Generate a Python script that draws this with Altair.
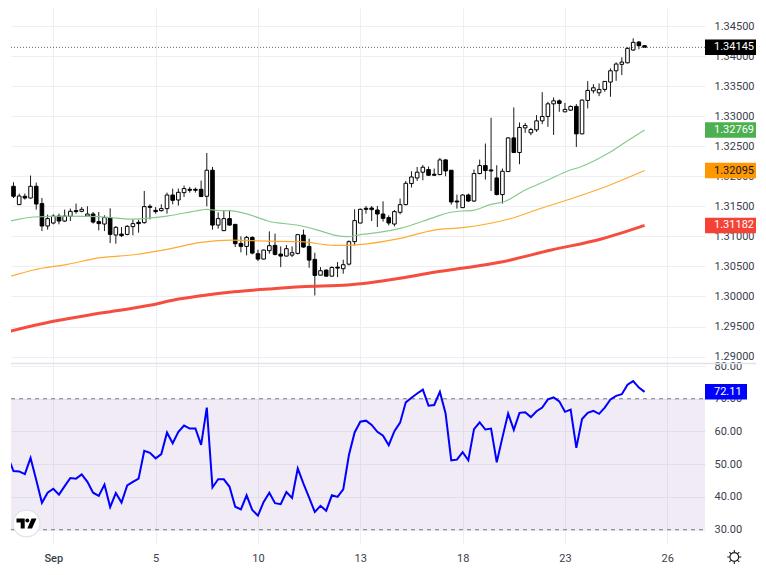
import altair as alt
import pandas as pd

opens = [1.31833,1.31528,1.31667,1.31638,1.31833,1.31545,1.31172,1.31222,1.31338,1.31255,1.31333,1.31428,1.31417,1.31338,1.31372,1.31245,1.31205,1.31312,1.31022,1.31038,1.31033,1.31162,1.31233,1.31228,1.31500,1.31433,1.31428,1.31462,1.31688,1.31605,1.31728,1.31783,1.31783,1.31783,1.31667,1.32100,1.31188,1.31095,1.31295,1.31200,1.30883,1.30833,1.30983,1.30712,1.30622,1.30762,1.30850,1.30705,1.30672,1.30688,1.30717,1.31022,1.30833,1.30617,1.30355,1.30438,1.30338,1.30488,1.30462,1.30538,1.30912,1.31222,1.31467,1.31472,1.31438,1.31372,1.31312,1.31205,1.31400,1.31528,1.31878,1.31972,1.32067,1.32112,1.32033,1.32028,1.32272,1.32100,1.31588,1.31478,1.31688,1.31588,1.32045,1.32178,1.32105,1.31972,1.31695,1.32078,1.32638,1.32395,1.32805,1.32722,1.32772,1.32922,1.32995,1.33205,1.33255,1.33072,1.33100,1.33162,1.32705,1.33262,1.33422,1.33388,1.33445,1.33567,1.33755,1.33862,1.33888,1.34100,1.34233,1.34172]
closes = [1.31667,1.31672,1.31638,1.31833,1.31538,1.31172,1.31295,1.31338,1.31255,1.31338,1.31417,1.31412,1.31450,1.31372,1.31238,1.31212,1.31312,1.31033,1.31150,1.31012,1.31167,1.31212,1.31212,1.31495,1.31483,1.31412,1.31462,1.31688,1.31600,1.31733,1.31795,1.31767,1.31767,1.31662,1.32100,1.31188,1.31295,1.31295,1.31188,1.30878,1.30833,1.30983,1.30722,1.30622,1.30772,1.30845,1.30700,1.30672,1.30795,1.30728,1.31028,1.30822,1.30605,1.30350,1.30428,1.30338,1.30483,1.30472,1.30528,1.30912,1.31262,1.31450,1.31450,1.31445,1.31372,1.31300,1.31222,1.31412,1.31528,1.31883,1.31988,1.32067,1.32150,1.32017,1.32017,1.32272,1.32088,1.31572,1.31572,1.31688,1.31588,1.32045,1.32178,1.32095,1.32088,1.31695,1.32083,1.32638,1.32395,1.32812,1.32845,1.32778,1.32922,1.32995,1.33205,1.33255,1.33212,1.33112,1.33162,1.32705,1.33267,1.33428,1.33472,1.33445,1.33578,1.33755,1.33867,1.33900,1.34128,1.34228,1.34172,1.34145]
highs = [1.31900,1.31712,1.31712,1.32012,1.31895,1.31638,1.31362,1.31367,1.31378,1.31445,1.31462,1.31545,1.31488,1.31500,1.31405,1.31405,1.31350,1.31467,1.31172,1.31155,1.31188,1.31283,1.31278,1.31755,1.31533,1.31488,1.31533,1.31728,1.31795,1.31795,1.31845,1.31822,1.31812,1.31928,1.32388,1.32155,1.31400,1.31425,1.31433,1.31200,1.31000,1.31008,1.31000,1.30778,1.30778,1.31083,1.31045,1.30833,1.30855,1.30833,1.31028,1.31112,1.30962,1.30728,1.30488,1.30450,1.30500,1.30572,1.30612,1.30933,1.31450,1.31462,1.31505,1.31505,1.31505,1.31583,1.31350,1.31438,1.31628,1.31922,1.32083,1.32155,1.32188,1.32162,1.32128,1.32305,1.32283,1.32100,1.31695,1.31700,1.31712,1.32112,1.32278,1.32545,1.32972,1.32183,1.32128,1.32650,1.33145,1.32895,1.32888,1.32805,1.33017,1.33400,1.33238,1.33312,1.33278,1.33222,1.33178,1.33200,1.33278,1.33583,1.33533,1.33545,1.33583,1.33795,1.33895,1.33978,1.34145,1.34295,1.34250,1.34183]
lows = [1.31638,1.31522,1.31612,1.31628,1.31445,1.31088,1.31112,1.31200,1.31200,1.31238,1.31255,1.31378,1.31400,1.31333,1.31212,1.31100,1.31088,1.30888,1.30878,1.30988,1.31017,1.31017,1.31062,1.31212,1.31283,1.31378,1.31412,1.31378,1.31533,1.31512,1.31655,1.31728,1.31728,1.31655,1.31500,1.31112,1.31128,1.31088,1.31178,1.30822,1.30733,1.30683,1.30700,1.30588,1.30617,1.30712,1.30683,1.30488,1.30667,1.30655,1.30700,1.30812,1.30478,1.30017,1.30350,1.30333,1.30333,1.30322,1.30378,1.30517,1.30850,1.31217,1.31378,1.31255,1.31155,1.31245,1.31183,1.31167,1.31367,1.31517,1.31812,1.31922,1.31933,1.32005,1.32005,1.32017,1.32000,1.31528,1.31462,1.31472,1.31572,1.31572,1.32033,1.31945,1.31755,1.31683,1.31545,1.32072,1.32388,1.32200,1.32722,1.32683,1.32738,1.32867,1.32822,1.32688,1.33072,1.33067,1.33088,1.32488,1.32700,1.33128,1.33378,1.33333,1.33405,1.33322,1.33588,1.33683,1.33878,1.34088,1.34112,1.34133]

green_idx = [-0.5,3.5,9.5,15,21,27,33,34,36,38,43.4,44.6,50.5,53.5,56.4,58.8,60.6,64,68,74,76.5,79,80.5,84,86.3,90,94,97.6,99.8,104.6,108,111]
green_val = [1.31255,1.31322,1.31338,1.31327,1.31288,1.31338,1.31438,1.31450,1.31430,1.31427,1.31300,1.31260,1.31177,1.31105,1.31022,1.30994,1.31022,1.31061,1.31134,1.31317,1.31393,1.31422,1.31427,1.31533,1.31576,1.31771,1.31937,1.32092,1.32159,1.32382,1.32591,1.32769]
orange_idx = [-0.5,3.5,9.5,15.3,21.2,27,33,38.5,44.5,50.5,56.4,58.8,60.6,68,74,79,87,92.8,98.6,104.6,111]
orange_val = [1.30335,1.30440,1.30535,1.30645,1.30694,1.30784,1.30901,1.30939,1.30922,1.30911,1.30851,1.30851,1.30861,1.30967,1.31105,1.31144,1.31284,1.31467,1.31643,1.31843,1.32095]
red_idx = [-0.5,6.8,15.4,24.2,28.2,33,38.8,44.8,50.6,58.8,68,74,78.8,85.8,94.6,103.4,111]
red_val = [1.29425,1.29583,1.29724,1.29857,1.29941,1.30012,1.30079,1.30124,1.30162,1.30190,1.30302,1.30402,1.30468,1.30573,1.30773,1.30956,1.31182]

rsi_val = [52.3,47.9,47.8,47.0,51.9,45.2,38.2,41.3,42.5,40.7,43.3,45.8,45.6,46.9,44.6,41.3,40.3,43.8,36.9,41.2,38.3,43.5,44.6,45.6,54.1,53.5,51.8,53.1,59.7,56.4,59.9,61.8,60.9,60.9,55.9,67.3,42.9,45.4,45.4,43.1,37.0,36.2,40.5,36.0,34.3,38.5,41.3,38.1,37.8,41.5,39.7,48.7,44.1,39.8,35.4,37.3,35.8,40.5,40.0,42.3,52.8,59.7,63.0,63.3,62.0,59.9,58.7,55.8,60.1,62.7,68.9,70.3,71.6,72.8,67.9,68.1,72.1,65.5,51.2,51.4,53.7,51.2,60.7,62.8,60.6,60.9,50.6,58.2,65.5,60.5,65.7,65.9,64.4,66.2,67.3,69.8,70.4,69.2,66.0,66.7,55.0,63.8,65.7,66.3,65.4,67.3,69.8,70.9,71.4,74.3,75.4,73.4,72.11]

price_ticks = [1.345,1.34,1.335,1.33,1.325,1.32,1.315,1.31,1.305,1.30,1.295,1.29]
rsi_ticks = [80,70,60,50,40,30]
time_pos = [7,25,43,61,79,97,115]
time_labels = ["Sep","5","10","13","18","23","26"]

tag_price = [1.34145,1.32769,1.32095,1.31182]
tag_text = ["1.34145","1.32769","1.32095","1.31182"]
tag_fill = ["#000000","#4caf50","#ff9800","#f44336"]
tag_ink = ["#ffffff","#ffffff","#131722","#ffffff"]

W, H1, H2 = 694, 355, 181
FONT = "Roboto"
INK = "#3a3e4a"
GRID = "#eeeff3"
xs = alt.Scale(domain=[-0.44, 121.63], nice=False, zero=False, padding=0)
ys = alt.Scale(domain=[1.28893, 1.347995], nice=False, zero=False, padding=0)
rs = alt.Scale(domain=[25.63, 80.92], nice=False, zero=False, padding=0)

label_js = "[" + ",".join(f"'{t}'" for t in time_labels) + "][(datum.value-7)/18]"

n = len(opens)
candles = pd.DataFrame({"i": range(n), "o": opens, "c": closes, "h": highs, "l": lows})
candles["fill"] = ["#ffffff" if c >= o else "#000000" for o, c in zip(opens, closes)]

x_axis_top = alt.Axis(values=time_pos, labels=False, ticks=False, domain=False, title=None, grid=True, gridColor=GRID, gridWidth=1)
y_axis_top = alt.Axis(orient="right", values=price_ticks, format=".5f", title=None, ticks=False, domain=False, grid=True, gridColor=GRID, gridWidth=1,
                      labelPadding=9, labelFont=FONT, labelFontSize=11, labelColor=INK, labelOverlap=False, labelFlush=False)


def X(f="i:Q"):
    return alt.X(f, scale=xs, axis=x_axis_top)


def Y(f):
    return alt.Y(f, scale=ys, axis=y_axis_top)


wicks = alt.Chart(candles).mark_rule(color="#1a1a1a", strokeWidth=1, clip=True).encode(x=X(), y=Y("h:Q"), y2="l:Q")
bodies = alt.Chart(candles).mark_bar(size=3.6, stroke="#000000", strokeWidth=1, clip=True).encode(
    x=X(), y=Y("o:Q"), y2="c:Q", color=alt.Color("fill:N", scale=None, legend=None))


def ma(idx, val, color, width):
    return alt.Chart(pd.DataFrame({"i": idx, "v": val})).mark_line(color=color, strokeWidth=width, clip=True, opacity=0.95, interpolate="monotone").encode(
        x=X(), y=Y("v:Q"))


tags = pd.DataFrame({"p": tag_price, "t": tag_text, "f": tag_fill, "k": tag_ink})
price_line = alt.Chart(tags.iloc[:1]).mark_rule(color="#5d606b", strokeWidth=1, strokeDash=[1, 2]).encode(
    y=Y("p:Q"), x=alt.value(0), x2=alt.value(W))
tag_bg = alt.Chart(tags).mark_bar(orient="horizontal", size=15.5).encode(
    y=Y("p:Q"), x=alt.value(W), x2=alt.value(745), color=alt.Color("f:N", scale=None, legend=None))
tag_tx = alt.Chart(tags).mark_text(align="left", baseline="middle", font=FONT, fontSize=11).encode(
    y=Y("p:Q"), x=alt.value(703), text="t:N", color=alt.Color("k:N", scale=None, legend=None))

top = alt.layer(wicks, bodies, ma(green_idx, green_val, "#81c784", 1.2), ma(orange_idx, orange_val, "#ffa726", 1.2),
                ma(red_idx, red_val, "#f44336", 3), price_line, tag_bg, tag_tx).properties(width=W, height=H1)

rsi = pd.DataFrame({"i": range(-1, n), "r": rsi_val})
band_df = pd.DataFrame({"a": [30], "b": [70]})
x_axis_bot = alt.Axis(values=time_pos, labelExpr=label_js, ticks=False, domain=False, title=None, grid=True, gridColor=GRID, gridWidth=1,
                      labelPadding=8, labelFont=FONT, labelFontSize=11, labelColor=INK, labelOverlap=False, labelFlush=False,
                      labelFontWeight={"condition": {"test": "datum.value == 7", "value": 500}, "value": 400})
y_axis_bot = alt.Axis(orient="right", values=rsi_ticks, format=".2f", title=None, ticks=False, domain=False, grid=True, gridColor=GRID, gridWidth=1,
                      labelPadding=9, labelFont=FONT, labelFontSize=11, labelColor=INK, labelOverlap=False, labelFlush=False)


def YR(f):
    return alt.Y(f, scale=rs, axis=y_axis_bot)


rsi_line = alt.Chart(rsi).mark_line(color="#0000ff", strokeWidth=2, clip=True).encode(x=alt.X("i:Q", scale=xs, axis=x_axis_bot), y=YR("r:Q"))
band = alt.Chart(band_df).mark_rect(color="#8258ac", opacity=0.12).encode(y=YR("a:Q"), y2="b:Q", x=alt.value(0), x2=alt.value(W))
limits = alt.Chart(pd.DataFrame({"v": [70, 30]})).mark_rule(color="#787b86", strokeWidth=1, strokeDash=[4, 4]).encode(
    y=YR("v:Q"), x=alt.value(0), x2=alt.value(W))
sep = alt.Chart(pd.DataFrame({"k": [0]})).mark_rule(color="#e0e3eb", strokeWidth=1.5).encode(
    y=alt.value(0.5), x=alt.value(0), x2=alt.value(745))
rsi_tag = pd.DataFrame({"r": [72.11], "t": ["72.11"]})
rsi_bg = alt.Chart(rsi_tag).mark_bar(orient="horizontal", size=15.5, color="#0000ff").encode(
    y=YR("r:Q"), x=alt.value(W), x2=alt.value(736))
rsi_tx = alt.Chart(rsi_tag).mark_text(align="left", baseline="middle", font=FONT, fontSize=11, color="#ffffff").encode(
    y=YR("r:Q"), x=alt.value(703), text="t:N")

TV_PATH = "M-1,-0.5 H-0.18 V0.5 H-0.58 V-0.1 H-1 Z M-0.12,-0.3 A0.2,0.2 0 1 1 0.28,-0.3 A0.2,0.2 0 1 1 -0.12,-0.3 Z M0.5,-0.5 H1 L0.55,0.5 H0.08 Z"
SUN_PATH = ("M-0.62,0 A0.62,0.62 0 1 1 0.62,0 A0.62,0.62 0 1 1 -0.62,0 Z M0,-0.62 L0,-1 M0,0.62 L0,1 M-0.62,0 L-1,0 M0.62,0 L1,0 "
            "M-0.45,-0.45 L-0.7,-0.7 M0.45,-0.45 L0.7,-0.7 M-0.45,0.45 L-0.7,0.7 M0.45,0.45 L0.7,0.7")
one = pd.DataFrame({"k": [0]})
logo_disc = alt.Chart(one).mark_point(shape="circle", filled=True, fill="#ffffff", stroke="#e0e3eb", strokeWidth=1.2, size=720, opacity=1).encode(
    x=alt.value(15.5), y=alt.value(160.5))
logo_mark = alt.Chart(one).mark_point(shape=TV_PATH, filled=True, fill="#000000", strokeWidth=0, size=400, opacity=1).encode(
    x=alt.value(15.5), y=alt.value(160.5))
sun = alt.Chart(one).mark_point(shape=SUN_PATH, filled=False, stroke="#131722", strokeWidth=1.1, size=196, opacity=1).encode(
    x=alt.value(723.3), y=alt.value(194))

bottom = alt.layer(band, limits, rsi_line, sep, rsi_bg, rsi_tx, logo_disc, logo_mark, sun).properties(width=W, height=H2)

chart = alt.vconcat(top, bottom, spacing=0, bounds="flush").properties(
    padding={"left": 2, "top": 0, "right": 0, "bottom": 0}, background="#ffffff"
).configure_view(stroke=None, strokeWidth=0)

chart.save("out.html", embed_options={"renderer": "svg", "actions": False})
